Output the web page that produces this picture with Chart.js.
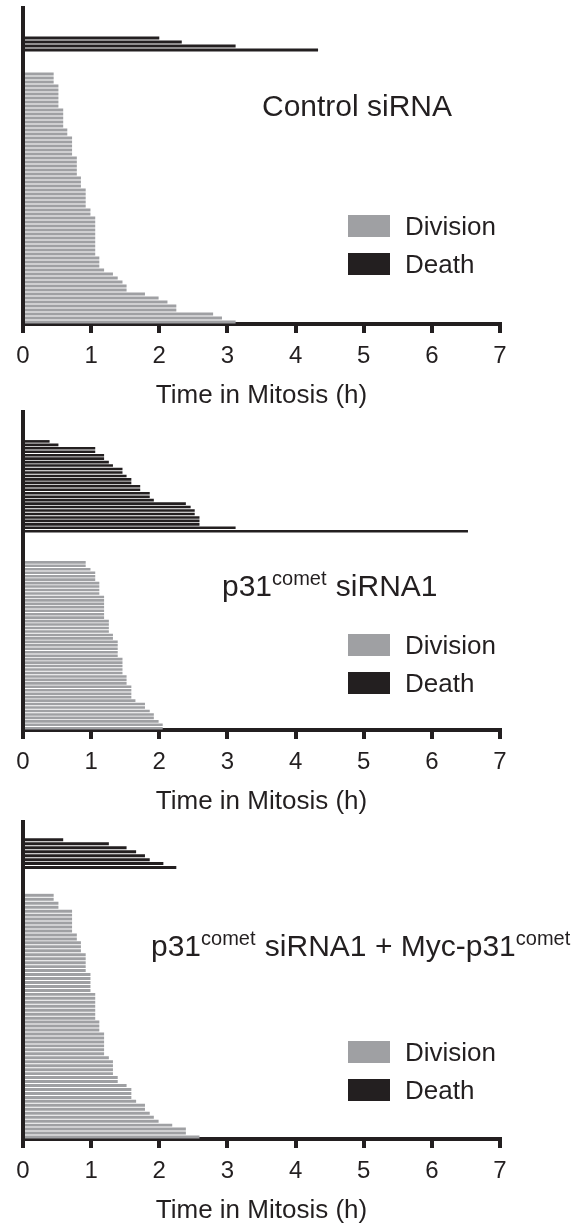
<!DOCTYPE html>
<html>
<head>
<meta charset="utf-8">
<script src="https://cdn.jsdelivr.net/npm/chart.js@4.4.1/dist/chart.umd.min.js"></script>
<style>
  html, body { margin: 0; padding: 0; background: #fff; }
  body { width: 583px; height: 1227px; position: relative; overflow: hidden; }
  .panel { position: absolute; left: 0; width: 583px; height: 412px; }
</style>
</head>
<body>
<div class="panel" style="top:0px"><canvas id="chart-1"></canvas></div>
<div class="panel" style="top:405px"><canvas id="chart-2"></canvas></div>
<div class="panel" style="top:814px"><canvas id="chart-3"></canvas></div>
<script>
// time in mitosis (h), one value per cell, top to bottom
const timeTicks = [0, 1, 2, 3, 4, 5, 6, 7];

const controlDeath = [2.0, 2.33, 3.12, 4.33];
const controlDivision = [
    0.45, 0.45, 0.45,
    0.52, 0.52, 0.52, 0.52, 0.52, 0.52,
    0.59, 0.59, 0.59, 0.59, 0.59,
    0.65, 0.65,
    0.72, 0.72, 0.72, 0.72, 0.72,
    0.79, 0.79, 0.79, 0.79, 0.79,
    0.85, 0.85, 0.85,
    0.92, 0.92, 0.92, 0.92, 0.92,
    0.99, 0.99,
    1.06, 1.06, 1.06, 1.06, 1.06, 1.06, 1.06, 1.06, 1.06, 1.06,
    1.12, 1.12, 1.12,
    1.19, 1.32, 1.39, 1.46, 1.52, 1.52,
    1.79, 1.99, 2.12, 2.25, 2.25,
    2.79, 2.92, 3.12
];

const sirnaDeath = [
    0.39, 0.52, 1.06, 1.06, 1.19, 1.19, 1.26, 1.32, 1.46, 1.46,
    1.52, 1.59, 1.59, 1.72, 1.72, 1.86, 1.86, 1.92,
    2.39, 2.46, 2.52, 2.52, 2.59, 2.59, 2.59, 3.12, 6.53
];
const sirnaDivision = [
    0.92, 0.92, 0.99,
    1.06, 1.06, 1.06,
    1.12, 1.12, 1.12, 1.12,
    1.19, 1.19, 1.19, 1.19, 1.19, 1.19, 1.19,
    1.26, 1.26, 1.26, 1.26,
    1.32, 1.32,
    1.39, 1.39, 1.39, 1.39, 1.39,
    1.46, 1.46, 1.46, 1.46, 1.46,
    1.52, 1.52, 1.52,
    1.59, 1.59, 1.59, 1.59,
    1.65, 1.79, 1.79, 1.86, 1.92, 1.92, 1.99, 2.05, 2.05
];

const rescueDeath = [0.59, 1.26, 1.52, 1.66, 1.79, 1.86, 2.06, 2.25];
const rescueDivision = [
    0.45, 0.45, 0.52, 0.52,
    0.72, 0.72, 0.72, 0.72, 0.72, 0.72,
    0.79, 0.79,
    0.85, 0.85, 0.85,
    0.92, 0.92, 0.92, 0.92, 0.92,
    0.99, 0.99, 0.99, 0.99, 0.99,
    1.06, 1.06, 1.06, 1.06, 1.06, 1.06, 1.06,
    1.12, 1.12, 1.12,
    1.19, 1.19, 1.19, 1.19, 1.19, 1.19,
    1.26,
    1.32, 1.32, 1.32, 1.32,
    1.39, 1.39,
    1.52, 1.59, 1.59, 1.59, 1.66, 1.79, 1.79, 1.86, 1.92, 1.99,
    2.19, 2.39, 2.39, 2.59
];

// empty cells: above the death group, between the groups
const controlGaps = [7, 5];
const sirnaGaps = [8, 8];
const rescueGaps = [4, 6];

const ink = '#231f20';
const grey = '#9fa0a3';
const family = '"Liberation Sans", Arial, Helvetica, sans-serif';

function buildRows(gaps, death, division) {
    const deathCol = [], divCol = [];
    for (let i = 0; i < gaps[0]; i++) { deathCol.push(null); divCol.push(null); }
    death.forEach(v => { deathCol.push(v); divCol.push(null); });
    for (let i = 0; i < gaps[1]; i++) { deathCol.push(null); divCol.push(null); }
    division.forEach(v => { deathCol.push(null); divCol.push(v); });
    const labels = deathCol.map((v, i) => String(i + 1));
    return { labels, deathCol, divCol };
}

// panel label + legend drawn on top of the chart
const panelText = {
    id: 'panelText',
    afterDraw(chart, args, opts) {
        const ctx = chart.ctx;
        ctx.save();
        ctx.fillStyle = ink;
        ctx.textBaseline = 'alphabetic';
        let x = opts.x;
        opts.title.forEach(seg => {
            ctx.font = (seg.sup ? 20 : 30) + 'px ' + family;
            ctx.fillText(seg.text, x, opts.y - (seg.sup ? 11 : 0));
            x += ctx.measureText(seg.text).width + (seg.sup ? 1 : 0);
        });
        ctx.font = '26px ' + family;
        chart.data.datasets.forEach((ds, i) => {
            const cy = opts.legendY + i * 38;
            ctx.fillStyle = ds.backgroundColor;
            ctx.fillRect(348, cy - 11, 42, 22);
            ctx.fillStyle = ink;
            ctx.fillText(ds.label, 405, cy + 9);
        });
        ctx.restore();
    }
};

function makeChart(id, gaps, death, division, pad, text) {
    const rows = buildRows(gaps, death, division);
    return new Chart(document.getElementById(id), {
        type: 'bar',
        data: {
            labels: rows.labels,
            datasets: [
                { label: 'Division', data: rows.divCol, backgroundColor: grey },
                { label: 'Death', data: rows.deathCol, backgroundColor: ink }
            ]
        },
        options: {
            indexAxis: 'y',
            responsive: true,
            maintainAspectRatio: false,
            animation: false,
            layout: { padding: { top: pad[0], left: 15, right: 83, bottom: pad[1] } },
            datasets: { bar: { grouped: false, barPercentage: 0.75, categoryPercentage: 1, borderWidth: 0 } },
            scales: {
                x: {
                    type: 'linear',
                    min: 0,
                    max: 7,
                    afterBuildTicks: axis => { axis.ticks = timeTicks.map(v => ({ value: v })); },
                    grid: { drawOnChartArea: false, tickLength: 9, lineWidth: 4, color: ink },
                    border: { width: 4, color: ink },
                    ticks: { color: ink, padding: 9, font: { size: 24, family } },
                    title: {
                        display: true,
                        text: 'Time in Mitosis (h)',
                        color: ink,
                        font: { size: 26, family },
                        padding: { top: 0, bottom: 0 }
                    }
                },
                y: {
                    grid: { display: false },
                    ticks: { display: false },
                    border: { width: 4, color: ink }
                }
            },
            plugins: {
                legend: { display: false },
                tooltip: { enabled: false },
                panelText: text
            }
        },
        plugins: [panelText]
    });
}

makeChart('chart-1', controlGaps, controlDeath, controlDivision, [8, 1], {
    x: 262, y: 116, legendY: 226,
    title: [{ text: 'Control siRNA' }]
});
makeChart('chart-2', sirnaGaps, sirnaDeath, sirnaDivision, [7, 0], {
    x: 222, y: 191, legendY: 240,
    title: [{ text: 'p31' }, { text: 'comet', sup: true }, { text: ' siRNA1' }]
});
makeChart('chart-3', rescueGaps, rescueDeath, rescueDivision, [8, 0], {
    x: 151, y: 142, legendY: 238,
    title: [{ text: 'p31' }, { text: 'comet', sup: true }, { text: ' siRNA1 + Myc-p31' }, { text: 'comet', sup: true }]
});
</script>
</body>
</html>
